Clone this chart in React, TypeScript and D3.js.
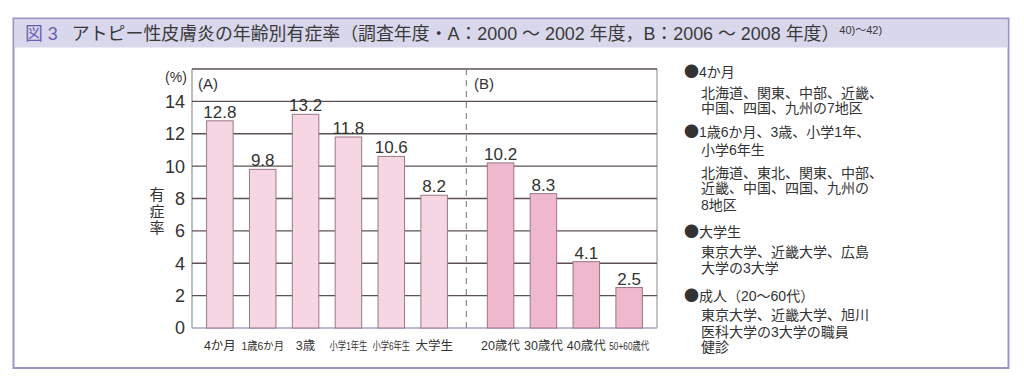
import React from "react";
import * as d3 from "d3";

const groupA = ["4か月", "1歳6か月", "3歳", "小学1年生", "小学6年生", "大学生"];
const valuesA = [12.8, 9.8, 13.2, 11.8, 10.6, 8.2];
const groupB = ["20歳代", "30歳代", "40歳代", "50+60歳代"];
const valuesB = [10.2, 8.3, 4.1, 2.5];
const yTicks = [0, 2, 4, 6, 8, 10, 12, 14];

const legendLines: { text: string; bullet: boolean }[] = [
  { text: "4か月", bullet: true },
  { text: "北海道、関東、中部、近畿、", bullet: false },
  { text: "中国、四国、九州の7地区", bullet: false },
  { text: "1歳6か月、3歳、小学1年、", bullet: true },
  { text: "小学6年生", bullet: false },
  { text: "北海道、東北、関東、中部、", bullet: false },
  { text: "近畿、中国、四国、九州の", bullet: false },
  { text: "8地区", bullet: false },
  { text: "大学生", bullet: true },
  { text: "東京大学、近畿大学、広島", bullet: false },
  { text: "大学の3大学", bullet: false },
  { text: "成人（20〜60代）", bullet: true },
  { text: "東京大学、近畿大学、旭川", bullet: false },
  { text: "医科大学の3大学の職員", bullet: false },
  { text: "健診", bullet: false },
];
const legendY = [72, 93, 108, 132, 150, 173, 188, 205, 232, 252, 268, 296, 315, 332, 347];

const FONT = "'Liberation Sans', 'Noto Sans CJK JP', sans-serif";
const CJK = "'Noto Sans CJK JP', sans-serif";

export default function App() {
  const W = 1024, H = 383;
  const left = 192, right = 657, top = 69, bottom = 328;
  const gapB = 6.55;
  const x = d3.scaleLinear().domain([-0.65, 10.2]).range([left, right]);
  const y = d3.scaleLinear().domain([0, 16]).range([bottom, top]);
  const barW = 26.5;

  const bars = [
    ...groupA.map((c, i) => ({ c, v: valuesA[i], pos: i, g: "A" })),
    ...groupB.map((c, i) => ({ c, v: valuesB[i], pos: gapB + i, g: "B" })),
  ];
  const squeeze: Record<string, number> = {
    "1歳6か月": 0.9,
    "小学1年生": 0.72,
    "小学6年生": 0.72,
    "50+60歳代": 0.72,
  };
  const dashX = (x(5) + x(gapB)) / 2 - 1;

  return (
    <svg width={W} height={H} style={{ position: "absolute", left: 0, top: 0, fontFamily: FONT }}>
      <rect x={0} y={0} width={W} height={H} fill="#fff" />
      <rect x={13.5} y={18.5} width={995} height={349.5} fill="#fff" stroke="#9d95c9" strokeWidth={2} />
      <rect x={14.5} y={19.5} width={993} height={28} fill="#d9d7ec" />
      <text x={25} y={39.5} fontSize={17.9} fill="#3a3a3a">
        <tspan fill="#6a60b0">図 3</tspan>
        <tspan dx={14}>アトピー性皮膚炎の年齢別有症率（調査年度・A：2000 〜 2002 年度，B：2006 〜 2008 年度）</tspan>
        <tspan fontSize={11} dy={-6}>40)〜42)</tspan>
      </text>

      <line x1={left} x2={left} y1={top} y2={bottom} stroke="#a8a8a8" strokeWidth={1.5} />
      <line x1={right} x2={right} y1={top} y2={bottom} stroke="#b0b0b0" strokeWidth={1.5} />
      {yTicks.filter(t => t > 0).concat([16]).map(t => (
        <line key={t} x1={left} x2={right} y1={y(t)} y2={y(t)} stroke="#5b5052" strokeWidth={1.3} />
      ))}
      <line x1={left} x2={right} y1={y(0)} y2={y(0)} stroke="#a9a3c8" strokeWidth={1.5} />
      <line x1={dashX} x2={dashX} y1={top} y2={bottom} stroke="#8a8a8a" strokeWidth={1.2} strokeDasharray="6,5" />

      {yTicks.map(t => (
        <text key={t} x={185} y={y(t)} dy="0.36em" textAnchor="end" fontSize={18} fill="#333">{t}</text>
      ))}
      <text x={176} y={82} textAnchor="middle" fontSize={14} fill="#333">(%)</text>
      <text x={208} y={89} textAnchor="middle" fontSize={15} fill="#333">(A)</text>
      <text x={484} y={89} textAnchor="middle" fontSize={15} fill="#333">(B)</text>
      <text x={157} y={187} fontSize={15} fill="#333" fontFamily={CJK}
        style={{ writingMode: "vertical-rl", letterSpacing: "1.5px" }}>有症率</text>

      {bars.map(b => (
        <g key={b.c}>
          <rect x={x(b.pos) - barW / 2} y={y(b.v)} width={barW} height={y(0) - y(b.v)}
            fill={b.g === "A" ? "#f6d6e2" : "#efb8cd"} stroke="#9c7787" strokeWidth={1} />
          <text x={x(b.pos)} y={y(b.v) - 3} textAnchor="middle" fontSize={17} fill="#333">{b.v.toFixed(1)}</text>
          <text transform={`translate(${x(b.pos)},350) scale(${squeeze[b.c] ?? 1},1)`} textAnchor="middle"
            fontSize={squeeze[b.c] ? 11.5 : 12.5} fill="#333">{b.c}</text>
        </g>
      ))}

      {legendLines.map((l, i) => (
        <text key={i} x={l.bullet ? 684 : 701} y={legendY[i]} dy="0.36em" fontSize={14} fill="#333">
          {l.bullet && <tspan fontFamily={CJK} fontSize={15}>●</tspan>}
          <tspan>{l.text}</tspan>
        </text>
      ))}
    </svg>
  );
}
